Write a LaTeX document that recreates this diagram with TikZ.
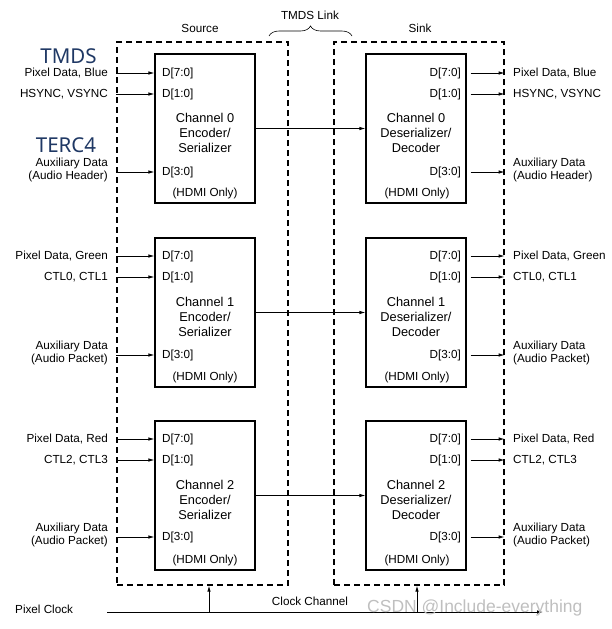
\documentclass[tikz,border=0pt]{standalone}
\usepackage{fontspec}
\setmainfont{Liberation Sans}
\newfontfamily\tagfont{Noto Sans}
\usetikzlibrary{arrows.meta,decorations.pathreplacing}
\definecolor{tagblue}{RGB}{31,56,100}

\tikzset{
  chbox/.style={draw, line width=1.1pt, minimum width=100pt, minimum height=149pt, inner sep=0pt},
  sidebox/.style={draw, dashed, dash pattern=on 6pt off 4pt, line width=1.2pt, inner sep=0pt},
  sig/.style={-{Latex[length=6pt,width=3.5pt]}, line width=0.8pt},
  lbl/.style={font=\fontsize{11.7}{13}\selectfont, inner sep=0pt},
  chtext/.style={font=\fontsize{12.8}{15}\selectfont, inner sep=0pt, align=center},
  tag/.style={font=\tagfont\fontsize{20.5}{20.5}\selectfont, text=tagblue, inner sep=0pt}
}

\begin{document}
\begin{tikzpicture}[x=1pt,y=-1pt]
\useasboundingbox (0,0) rectangle (612,629);

% source and sink
\node[sidebox, minimum width=171pt, minimum height=543pt] (src) at (202.5,313.5) {};
\node[sidebox, minimum width=170pt, minimum height=543pt] (snk) at (419,313.5) {};
\node[lbl] (srct) at (200,28) {Source};
\node[lbl] (snkt) at (420,28) {Sink};
\node[lbl] (link) at (310,15) {TMDS Link};
\draw[line width=0.6pt, decorate, decoration={brace, amplitude=10pt}] (269,36) -- (352,36);

\node[tag] (tmds) at (68.5,56.5) {TMDS};
\node[tag] (terc) at (66,145) {TERC4};

% channel 0
\node[chbox] (src0) at (205,128.5) {};
\node[chtext] (src0t) at (205,133) {Channel 0\\Encoder/\\Serializer};
\node[lbl, anchor=west] (s0d7) at (162,73) {D[7:0]};
\node[lbl, anchor=west] (s0d1) at (162,94) {D[1:0]};
\node[lbl, anchor=west] (s0d3) at (162,172) {D[3:0]};
\node[lbl] (s0h) at (205,193) {(HDMI Only)};
\node[lbl, anchor=east] (i0a) at (108,73) {Pixel Data, Blue};
\node[lbl, anchor=east] (i0b) at (108,94) {HSYNC, VSYNC};
\node[lbl, anchor=east, align=right] (i0c) at (108,169.5) {Auxiliary Data\\(Audio Header)};
\draw[sig] (src.west |- s0d7) -- (src0.west |- s0d7);
\draw[sig] (src.west |- s0d1) -- (src0.west |- s0d1);
\draw[sig] (src.west |- s0d3) -- (src0.west |- s0d3);

\node[chbox] (snk0) at (416,128.5) {};
\node[chtext] (snk0t) at (416,133) {Channel 0\\Deserializer/\\Decoder};
\node[lbl, anchor=east] (t0d7) at (461,73) {D[7:0]};
\node[lbl, anchor=east] (t0d1) at (461,94) {D[1:0]};
\node[lbl, anchor=east] (t0d3) at (461,172) {D[3:0]};
\node[lbl] (t0h) at (417,193) {(HDMI Only)};
\node[lbl, anchor=west] (o0a) at (513,73) {Pixel Data, Blue};
\node[lbl, anchor=west] (o0b) at (513,94) {HSYNC, VSYNC};
\node[lbl, anchor=west, align=left] (o0c) at (513,169.5) {Auxiliary Data\\(Audio Header)};
\draw[sig] ([xshift=4pt]snk0.east |- t0d7) -- (snk.east |- t0d7);
\draw[sig] ([xshift=4pt]snk0.east |- t0d1) -- (snk.east |- t0d1);
\draw[sig] ([xshift=4pt]snk0.east |- t0d3) -- (snk.east |- t0d3);

\draw[sig] (src0.east) -- (snk0.west);

% channel 1
\node[chbox] (src1) at (205,312.5) {};
\node[chtext] (src1t) at (205,317) {Channel 1\\Encoder/\\Serializer};
\node[lbl, anchor=west] (s1d7) at (162,256) {D[7:0]};
\node[lbl, anchor=west] (s1d1) at (162,277) {D[1:0]};
\node[lbl, anchor=west] (s1d3) at (162,355) {D[3:0]};
\node[lbl] (s1h) at (205,377) {(HDMI Only)};
\node[lbl, anchor=east] (i1a) at (108,256) {Pixel Data, Green};
\node[lbl, anchor=east] (i1b) at (108,277) {CTL0, CTL1};
\node[lbl, anchor=east, align=right] (i1c) at (108,352.5) {Auxiliary Data\\(Audio Packet)};
\draw[sig] (src.west |- s1d7) -- (src1.west |- s1d7);
\draw[sig] (src.west |- s1d1) -- (src1.west |- s1d1);
\draw[sig] (src.west |- s1d3) -- (src1.west |- s1d3);

\node[chbox] (snk1) at (416,312.5) {};
\node[chtext] (snk1t) at (416,317) {Channel 1\\Deserializer/\\Decoder};
\node[lbl, anchor=east] (t1d7) at (461,256) {D[7:0]};
\node[lbl, anchor=east] (t1d1) at (461,277) {D[1:0]};
\node[lbl, anchor=east] (t1d3) at (461,355) {D[3:0]};
\node[lbl] (t1h) at (417,377) {(HDMI Only)};
\node[lbl, anchor=west] (o1a) at (513,256) {Pixel Data, Green};
\node[lbl, anchor=west] (o1b) at (513,277) {CTL0, CTL1};
\node[lbl, anchor=west, align=left] (o1c) at (513,352.5) {Auxiliary Data\\(Audio Packet)};
\draw[sig] ([xshift=4pt]snk1.east |- t1d7) -- (snk.east |- t1d7);
\draw[sig] ([xshift=4pt]snk1.east |- t1d1) -- (snk.east |- t1d1);
\draw[sig] ([xshift=4pt]snk1.east |- t1d3) -- (snk.east |- t1d3);

\draw[sig] (src1.east) -- (snk1.west);

% channel 2
\node[chbox] (src2) at (205,495.5) {};
\node[chtext] (src2t) at (205,500) {Channel 2\\Encoder/\\Serializer};
\node[lbl, anchor=west] (s2d7) at (162,439) {D[7:0]};
\node[lbl, anchor=west] (s2d1) at (162,460) {D[1:0]};
\node[lbl, anchor=west] (s2d3) at (162,537) {D[3:0]};
\node[lbl] (s2h) at (205,560) {(HDMI Only)};
\node[lbl, anchor=east] (i2a) at (108,439) {Pixel Data, Red};
\node[lbl, anchor=east] (i2b) at (108,460) {CTL2, CTL3};
\node[lbl, anchor=east, align=right] (i2c) at (108,534.5) {Auxiliary Data\\(Audio Packet)};
\draw[sig] (src.west |- s2d7) -- (src2.west |- s2d7);
\draw[sig] (src.west |- s2d1) -- (src2.west |- s2d1);
\draw[sig] (src.west |- s2d3) -- (src2.west |- s2d3);

\node[chbox] (snk2) at (416,495.5) {};
\node[chtext] (snk2t) at (416,500) {Channel 2\\Deserializer/\\Decoder};
\node[lbl, anchor=east] (t2d7) at (461,439) {D[7:0]};
\node[lbl, anchor=east] (t2d1) at (461,460) {D[1:0]};
\node[lbl, anchor=east] (t2d3) at (461,537) {D[3:0]};
\node[lbl] (t2h) at (417,560) {(HDMI Only)};
\node[lbl, anchor=west] (o2a) at (513,439) {Pixel Data, Red};
\node[lbl, anchor=west] (o2b) at (513,460) {CTL2, CTL3};
\node[lbl, anchor=west, align=left] (o2c) at (513,534.5) {Auxiliary Data\\(Audio Packet)};
\draw[sig] ([xshift=4pt]snk2.east |- t2d7) -- (snk.east |- t2d7);
\draw[sig] ([xshift=4pt]snk2.east |- t2d1) -- (snk.east |- t2d1);
\draw[sig] ([xshift=4pt]snk2.east |- t2d3) -- (snk.east |- t2d3);

\draw[sig] (src2.east) -- (snk2.west);

% clock
\node[lbl, anchor=west] (pclk) at (15,609) {Pixel Clock};
\node[lbl] (cch) at (310,601) {Clock Channel};
\coordinate (ck0) at (107,612);
\coordinate (ck1) at (543,612);
\coordinate (tap0) at (209,612);
\coordinate (tap1) at (417,612);
\draw[sig] (ck0) -- (ck1);
\draw[sig] (tap0) -- (tap0 |- src.south);
\draw[sig] (tap1) -- (tap1 |- snk.south);

\node[anchor=west, inner sep=0pt, text=gray!50, font=\fontsize{17.5}{17.5}\selectfont] (wm) at (367,608) {CSDN @Include-everything};

\end{tikzpicture}
\end{document}
